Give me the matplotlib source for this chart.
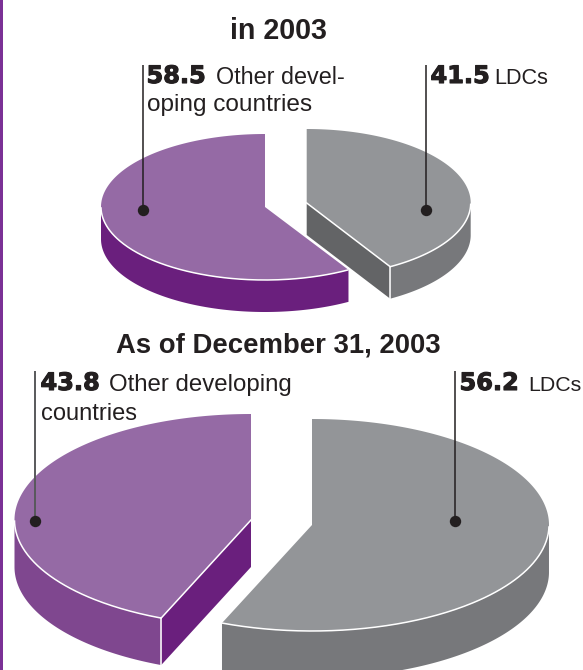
import numpy as np
import matplotlib
matplotlib.use("Agg")
import matplotlib.pyplot as plt
import matplotlib.patheffects as pe

plt.rcParams['font.family'] = ['Liberation Sans', 'DejaVu Sans']

# share of each group, in percent
shares_2003 = [58.5, 41.5]
shares_dec = [43.8, 56.2]
share_labels_2003 = ["58.5", "41.5"]
share_labels_dec = ["43.8", "56.2"]
titles = ["in 2003", "As of December 31, 2003"]

PURPLE = dict(top="#956AA5", wall="#6A1F7D", cut="#6A1F7D")
PURPLE_LIGHT = dict(top="#956AA5", wall="#7F478F", cut="#6A1F7D")
GREY = dict(top="#939598", wall="#77787B", cut="#636466")
INK = "#231F20"


def ellipse_pts(cx, cy, a, b, angles):
    rad = np.radians(angles)
    return cx + a * np.cos(rad), cy - b * np.sin(rad)


def draw_slice(ax, cx, cy, a, b, depth, share, ccw, colors, z):
    # each slice starts at 12 o'clock and sweeps by its share of the circle
    sweep = share * 3.6
    end = 90 + sweep if ccw else 90 - sweep
    ang = np.linspace(90, end, 300)
    x, y = ellipse_pts(cx, cy, a, b, ang)

    # flat cut wall, only visible when it faces the viewer
    ex, ey = x[-1], y[-1]
    cut_shows = (ccw and 180 < end < 270) or (not ccw and -90 < end < 0)
    if cut_shows:
        ax.fill([cx, ex, ex, cx], [cy, ey, ey + depth, cy + depth],
                color=colors["cut"], lw=0, zorder=z)

    # rim wall along the front half of the ellipse
    front = np.sin(np.radians(ang)) <= 0
    fx, fy = x[front], y[front]
    ax.fill(np.r_[fx, fx[::-1]], np.r_[fy, fy[::-1] + depth],
            color=colors["wall"], lw=0, zorder=z)

    ax.fill(np.r_[cx, x], np.r_[cy, y], color=colors["top"], lw=0, zorder=z + 0.1)

    # white highlights along the visible top edges
    ax.plot(fx, fy, color="white", lw=1.1, zorder=z + 0.2, solid_capstyle="butt")
    if cut_shows:
        ax.plot([cx, ex], [cy, ey], color="white", lw=1.1, zorder=z + 0.2)
        ax.plot([ex, ex], [ey, ey + depth], color="white", lw=1.1, zorder=z + 0.2)


def leader(ax, x, y0, y1, lw=1.1, color=INK):
    ax.plot([x, x], [y0, y1], color=color, lw=lw, zorder=5, solid_capstyle="butt")
    ax.plot([x], [y1], "o", color=INK, ms=8.2, mew=0, zorder=6)


def value_text(ax, x, y, s):
    # the extra stroke gives the figures their black weight
    t = ax.text(x, y, s, fontsize=17.3, fontweight="bold", family="DejaVu Sans",
                color=INK, va="baseline", zorder=7)
    t.set_path_effects([pe.withStroke(linewidth=0.8, foreground=INK)])


def label_text(ax, x, y, s, size=17):
    ax.text(x, y, s, fontsize=size, color=INK, va="baseline", zorder=7)


fig = plt.figure(figsize=(5.83, 6.7), dpi=100)
ax = fig.add_axes([0, 0, 1, 1])
ax.set_xlim(0, 583)
ax.set_ylim(670, 0)
ax.axis("off")

# purple rule down the left side
ax.fill([0, 2.6, 2.6, 0], [0, 0, 670, 670], color="#7B3196", lw=0)

# upper pie
draw_slice(ax, 265, 207, 164, 73, 32, shares_2003[0], True, PURPLE, 1)
draw_slice(ax, 306.7, 203, 164, 74, 32, shares_2003[1], False, GREY, 2)
ax.text(278, 39, titles[0], fontsize=20.6, fontweight="bold", color=INK, ha="center", va="baseline")
leader(ax, 143, 65, 210)
leader(ax, 426.3, 65, 210)
value_text(ax, 146.5, 83, share_labels_2003[0])
label_text(ax, 216, 84, "Other devel-", 16.8)
label_text(ax, 147, 111, "oping countries", 17.6)
value_text(ax, 430.5, 83, share_labels_2003[1])
label_text(ax, 494, 84, "LDCs", 15.6)

# lower pie
draw_slice(ax, 251, 520, 236.5, 106, 47, shares_dec[0], True, PURPLE_LIGHT, 1)
draw_slice(ax, 312, 525, 237, 106, 47, shares_dec[1], False, GREY, 2)
ax.text(278.5, 352.5, titles[1], fontsize=19.8, fontweight="bold", color=INK, ha="center", va="baseline")
leader(ax, 35, 371, 521, lw=1.4, color="#58595B")
leader(ax, 455, 371, 520.5)
value_text(ax, 40.5, 390, share_labels_dec[0])
label_text(ax, 109, 391, "Other developing", 17.3)
label_text(ax, 41, 420, "countries", 17)
value_text(ax, 459.5, 390, share_labels_dec[1])
label_text(ax, 528.5, 391, "LDCs", 15.4)

fig.savefig("out.png", dpi=100)
